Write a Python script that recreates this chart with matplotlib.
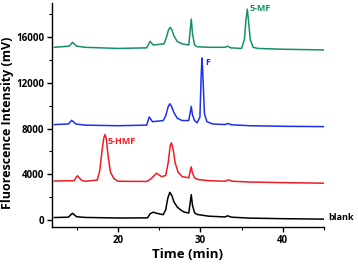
import matplotlib
matplotlib.use('Agg')
import matplotlib.pyplot as plt
from matplotlib.ticker import MultipleLocator

# chromatogram traces (time in min, intensity in mV)
blank_t = [12.3, 14.0, 14.3, 14.5, 14.7, 15.0, 16.0, 20.0, 23.6, 23.9, 24.3, 24.7, 25.5, 25.8,
           26.05, 26.3, 26.55, 26.8, 27.2, 27.6, 28.0, 28.6, 28.75, 28.9, 29.05, 29.3, 29.6,
           31.0, 33.0, 33.3, 33.8, 36.0, 40.0, 45.0]
blank_y = [230, 260, 480, 600, 480, 300, 240, 190, 200, 550, 700, 600, 480, 900,
           1900, 2430, 2150, 1600, 1150, 900, 720, 620, 1400, 2230, 1300, 650, 500,
           350, 280, 380, 260, 180, 130, 90]

hmf_t = [12.3, 14.7, 14.95, 15.1, 15.3, 15.6, 16.0, 17.5, 17.8, 18.05, 18.3, 18.45, 18.6, 18.8,
         19.1, 19.5, 20.0, 23.5, 24.0, 24.7, 25.3, 25.8, 26.1, 26.35, 26.5, 26.7, 26.95, 27.3,
         27.8, 28.6, 28.75, 28.9, 29.05, 29.3, 29.7, 31.0, 33.0, 33.4, 33.9, 36.0, 40.0, 45.0]
hmf_y = [3420, 3450, 3750, 3880, 3700, 3480, 3400, 3500, 4300, 5900, 7200, 7480, 7100, 5700,
         4200, 3650, 3400, 3380, 3600, 4100, 3800, 3900, 5000, 6500, 6750, 6200, 5000, 4200,
         3800, 3700, 4200, 4660, 4100, 3700, 3550, 3450, 3400, 3520, 3400, 3330, 3280, 3230]

f_t = [12.3, 14.0, 14.25, 14.4, 14.6, 14.9, 16.0, 20.0, 23.5, 23.8, 24.2, 25.5, 25.8, 26.1,
       26.3, 26.5, 26.8, 27.2, 27.8, 28.6, 28.75, 28.9, 29.05, 29.3, 29.6, 29.95, 30.1, 30.2,
       30.3, 30.5, 30.8, 31.5, 33.0, 33.3, 33.8, 36.0, 40.0, 45.0]
f_y = [8350, 8400, 8600, 8720, 8600, 8400, 8300, 8250, 8300, 9010, 8600, 8700, 9100, 9900,
       10170, 9950, 9400, 8900, 8700, 8700, 9300, 9940, 9200, 8700, 8500, 9000, 12500, 14170,
       12800, 9300, 8600, 8400, 8350, 8450, 8330, 8250, 8200, 8170]

mf_t = [12.3, 14.1, 14.35, 14.5, 14.7, 15.0, 16.0, 20.0, 23.5, 23.9, 24.3, 25.6, 25.9, 26.15,
        26.35, 26.55, 26.8, 27.2, 27.8, 28.6, 28.75, 28.9, 29.05, 29.3, 29.6, 31.0, 33.0, 33.3,
        33.7, 35.0, 35.35, 35.55, 35.7, 35.85, 36.05, 36.4, 37.0, 40.0, 45.0]
mf_y = [15100, 15200, 15420, 15530, 15400, 15200, 15100, 15000, 15050, 15620, 15300, 15400, 16000, 16650,
        16840, 16600, 16100, 15600, 15400, 15300, 16400, 17570, 16300, 15300, 15150, 15100, 15100, 15200,
        15050, 15000, 15800, 17600, 18430, 17400, 15800, 15100, 15000, 14930, 14870]

fig = plt.figure(figsize=(3.58, 2.64), dpi=100)
ax = fig.add_axes([0.145, 0.14, 0.76, 0.85])

font = 'Open Sans'
ax.plot(blank_t, blank_y, color='black', lw=1.1)
ax.plot(hmf_t, hmf_y, color='#ee1c24', lw=1.1)
ax.plot(f_t, f_y, color='#1f2ef0', lw=1.1)
ax.plot(mf_t, mf_y, color='#16906c', lw=1.1)

# peak labels
ax.text(35.95, 18450, '5-MF', color='#16906c', fontsize=6.5, fontweight='bold', family=font, va='center')
ax.text(30.65, 13760, 'F', color='#1f2ef0', fontsize=6.5, fontweight='bold', family=font, va='center')
ax.text(18.75, 6900, '5-HMF', color='#ee1c24', fontsize=6.5, fontweight='bold', family=font, va='center')
ax.text(45.5, 200, 'blank', color='black', fontsize=6.5, fontweight='bold', family=font, va='center', clip_on=False)

ax.set_xlim(12, 45)
ax.set_ylim(-600, 19000)
ax.xaxis.set_major_locator(MultipleLocator(10))
ax.xaxis.set_minor_locator(MultipleLocator(5))
ax.yaxis.set_major_locator(MultipleLocator(4000))
ax.yaxis.set_minor_locator(MultipleLocator(2000))

for s in ['top', 'right']:
    ax.spines[s].set_visible(False)
for s in ['left', 'bottom']:
    ax.spines[s].set_linewidth(1.0)

ax.tick_params(which='major', length=3.5, width=1.0, labelsize=7, pad=2)
ax.tick_params(which='minor', length=2, width=0.8)
for lab in ax.get_xticklabels() + ax.get_yticklabels():
    lab.set_fontweight('bold')
    lab.set_family(font)

ax.set_xlabel('Time (min)', fontsize=9.5, fontweight='bold', family=font, labelpad=2)
ax.set_ylabel('Fluorescence Intensity (mV)', fontsize=9, fontweight='bold', family=font, va='center')
ax.yaxis.set_label_coords(-0.162, 0.465)

fig.savefig('out.png', dpi=100)
